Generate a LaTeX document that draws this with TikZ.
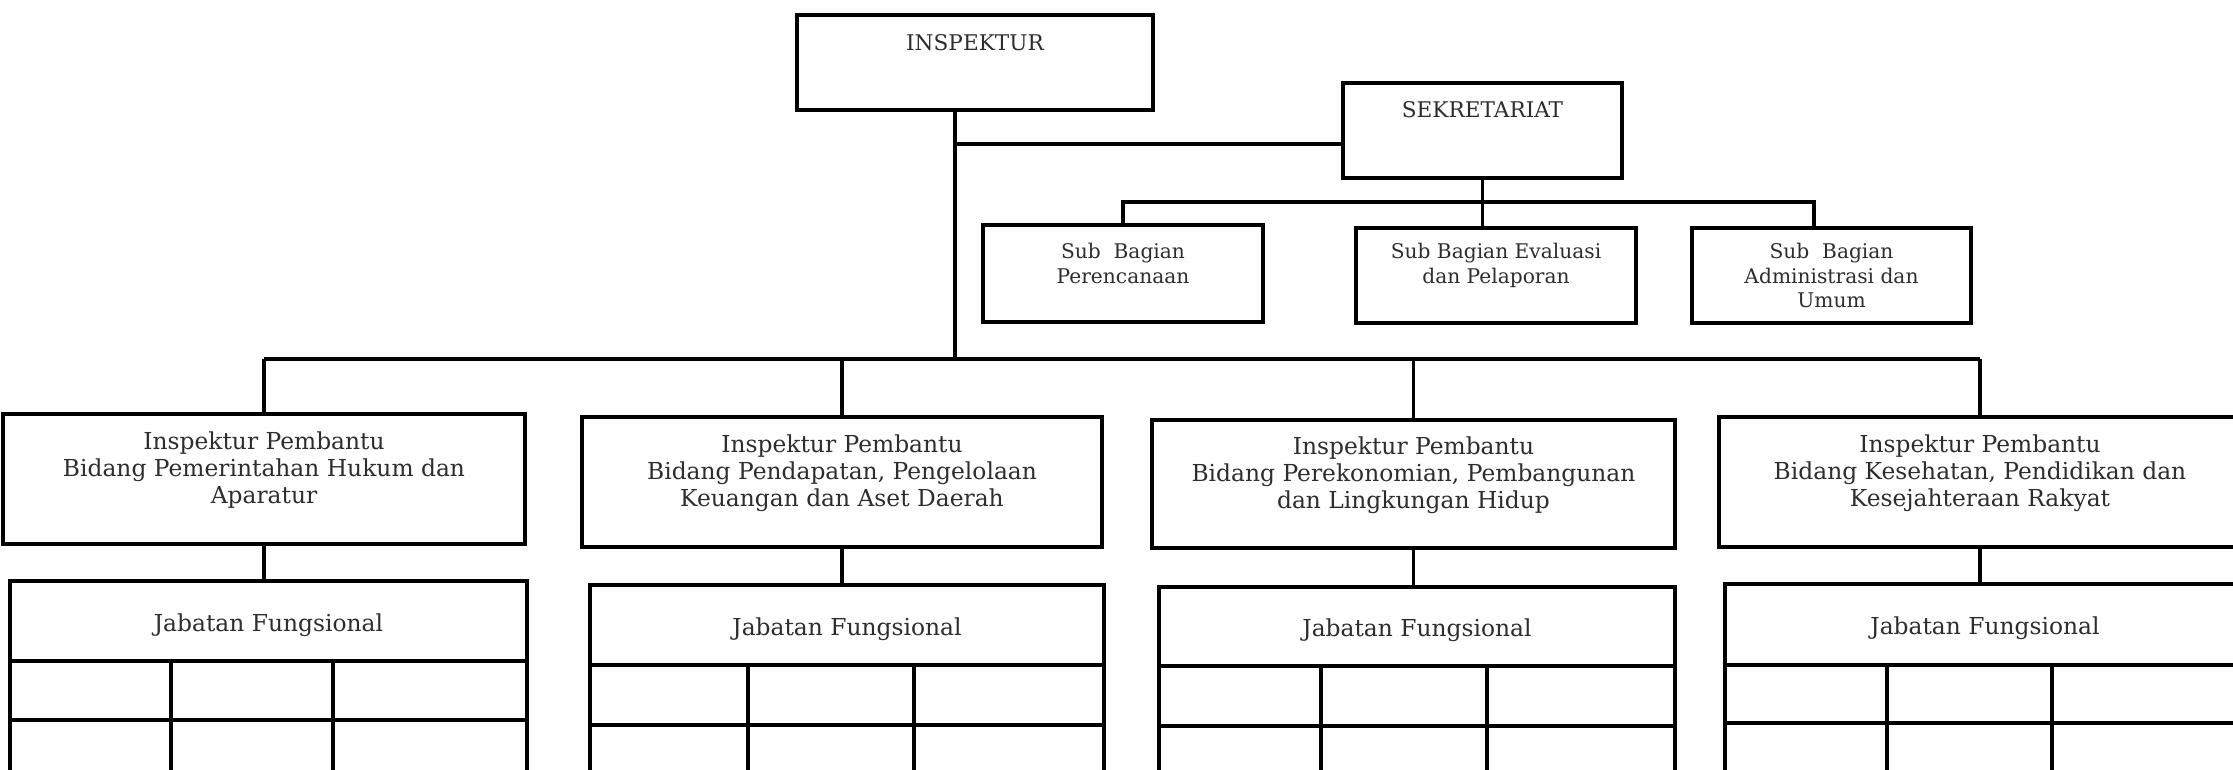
\documentclass[tikz,border=0pt]{standalone}
\usepackage{fontspec}
\setmainfont{DejaVu Serif}
\usetikzlibrary{fit}
\definecolor{inkgray}{RGB}{45, 45, 45}
\tikzset{
  unit/.style = {draw, line width = 1.8pt, inner sep = 0pt, outer sep = 0pt},
  link/.style = {line width = 1.8pt},
  txt/.style = {text = inkgray, align = center, font = \fontsize{13.3}{15.3}\selectfont},
  subtxt/.style = {text = inkgray, align = center, font = \fontsize{11.5}{14.2}\selectfont},
  toptxt/.style = {text = inkgray, font = \fontsize{12.3}{14}\selectfont},
}

\begin{document}
\begin{tikzpicture}[x = 0.02cm, y = -0.02cm]
\useasboundingbox (0,0) rectangle (2233,770);
\clip (0,0) rectangle (2233,770);
% pimpinan
\node[unit, fit = {(797,15) (1153,110)}, label = {[toptxt, yshift = 0.39cm]center:INSPEKTUR}] (insp) {};
\node[unit, fit = {(1343,83) (1622,178)}, label = {[toptxt, yshift = 0.41cm]center:SEKRETARIAT}] (sek) {};
% sub bagian
\node[unit, fit = {(983,225) (1263,322)}, label = {[subtxt, yshift = 0.2cm]center:Sub\ \ Bagian\\Perencanaan}] (sb1) {};
\node[unit, fit = {(1356,228) (1636,323)}, label = {[subtxt, yshift = 0.2cm]center:Sub Bagian Evaluasi\\dan Pelaporan}] (sb2) {};
\node[unit, fit = {(1692,228) (1971,323)}, label = {[subtxt]center:Sub\ \ Bagian\\Administrasi dan\\Umum}] (sb3) {};
% inspektur pembantu
\node[unit, fit = {(3,414) (525,544)}, label = {[txt, yshift = 0.18cm]center:Inspektur Pembantu\\Bidang Pemerintahan Hukum dan\\Aparatur}] (ip1) {};
\node[unit, fit = {(582,417) (1102,547)}, label = {[txt, yshift = 0.18cm]center:Inspektur Pembantu\\Bidang Pendapatan, Pengelolaan\\Keuangan dan Aset Daerah}] (ip2) {};
\node[unit, fit = {(1152,420) (1675,548)}, label = {[txt, yshift = 0.18cm]center:Inspektur Pembantu\\Bidang Perekonomian, Pembangunan\\dan Lingkungan Hidup}] (ip3) {};
\node[unit, fit = {(1719,417) (2241,547)}, label = {[txt, yshift = 0.18cm]center:Inspektur Pembantu\\Bidang Kesehatan, Pendidikan dan\\Kesejahteraan Rakyat}] (ip4) {};
% jabatan fungsional
\node[unit, fit = {(10,581) (527,661)}, label = {[txt, yshift = -0.08cm]center:Jabatan Fungsional}] (jf1) {};
\node[unit, fit = {(590,585) (1104,665)}, label = {[txt, yshift = -0.08cm]center:Jabatan Fungsional}] (jf2) {};
\node[unit, fit = {(1159,587) (1675,666)}, label = {[txt, yshift = -0.08cm]center:Jabatan Fungsional}] (jf3) {};
\node[unit, fit = {(1725,584) (2245,665)}, label = {[txt, yshift = -0.08cm]center:Jabatan Fungsional}] (jf4) {};
\foreach \n/\a/\b/\r in {1/171/333/720, 2/748/914/725, 3/1321/1487/726, 4/1887/2052/723}
{
  \draw[link] (jf\n.south west) -- ++(0,150);
  \draw[link] (jf\n.south east) -- ++(0,150);
  \draw[link] (jf\n.south -| \a,0) -- (\a,800);
  \draw[link] (jf\n.south -| \b,0) -- (\b,800);
  \draw[link] (jf\n.south west |- 0,\r) -- (jf\n.south east |- 0,\r);
}
% garis
\coordinate (tk) at (955,144);
\coordinate (bus) at (955,359);
\coordinate (sbus) at (1814,202);
\draw[link] (insp.south -| tk) -- (bus);
\draw[link] (tk) -- (tk -| sek.west);
\draw[link] (sek.south) -- (sek.south |- sb2.north);
\draw[link] (sb1.north) -- (sb1.north |- sbus) -- (sbus) -- (sbus |- sb3.north);
\draw[link] (ip1.north |- bus) -- (ip4.north |- bus);
\foreach \n in {1,...,4}
{
  \draw[link] (ip\n.north |- bus) -- (ip\n.north);
  \draw[link] (ip\n.south) -- (ip\n.south |- jf\n.north);
}
\end{tikzpicture}
\end{document}
